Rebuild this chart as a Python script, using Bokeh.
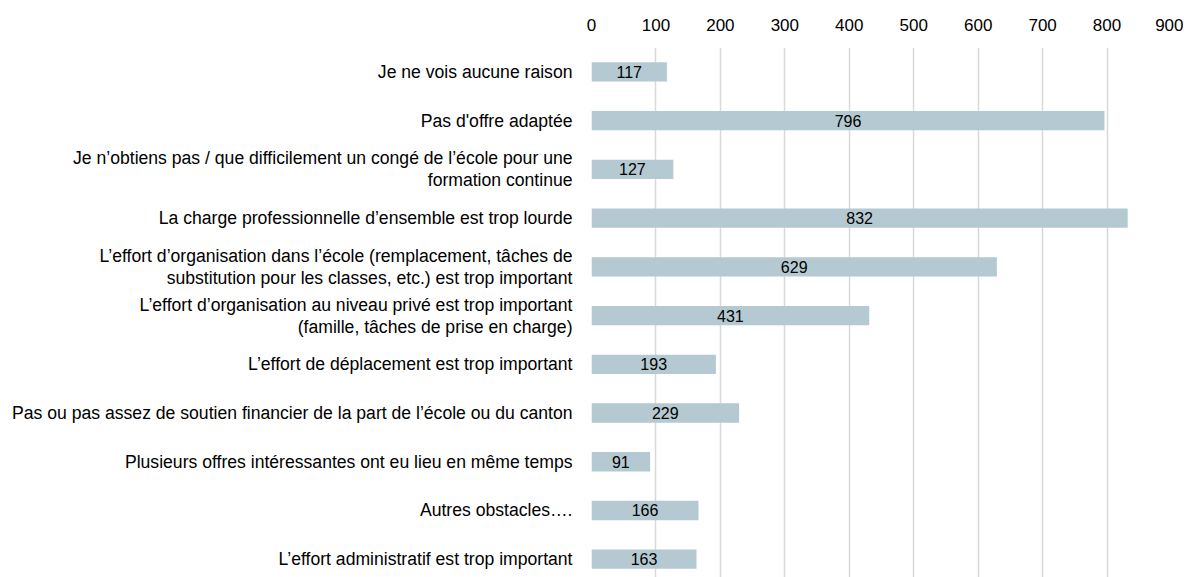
from bokeh.plotting import figure
from bokeh.models import Range1d, FixedTicker, ColumnDataSource, LabelSet
from bokeh.core.properties import value
from bokeh.embed import file_html
from bokeh.resources import INLINE

categories = [
    "Je ne vois aucune raison",
    "Pas d'offre adaptée",
    "Je n’obtiens pas / que difficilement un congé de l’école pour une\nformation continue",
    "La charge professionnelle d’ensemble est trop lourde",
    "L’effort d’organisation dans l’école (remplacement, tâches de\nsubstitution pour les classes, etc.) est trop important",
    "L’effort d’organisation au niveau privé est trop important\n(famille, tâches de prise en charge)",
    "L’effort de déplacement est trop important",
    "Pas ou pas assez de soutien financier de la part de l’école ou du canton",
    "Plusieurs offres intéressantes ont eu lieu en même temps",
    "Autres obstacles….",
    "L’effort administratif est trop important",
]
values = [117, 796, 127, 832, 629, 431, 193, 229, 91, 166, 163]
x_ticks = [0, 100, 200, 300, 400, 500, 600, 700, 800, 900]

FONT = "Liberation Sans"
pos = list(range(len(categories)))

src = ColumnDataSource(dict(
    y=pos,
    v=values,
    mid=[v / 2 for v in values],
    txt=[str(v) for v in values],
))

p = figure(
    width=1183, height=577,
    x_range=Range1d(0, 900),
    y_range=Range1d(10.375, -0.5),
    x_axis_location="above",
    output_backend="svg", toolbar_location=None,
    min_border_left=591, min_border_right=12, min_border_top=47, min_border_bottom=0,
)
p.outline_line_color = None
p.background_fill_color = "white"
p.border_fill_color = "white"

p.hbar(y="y", left=0, right="v", height=0.396, source=src,
       fill_color="#b4c9d1", line_color=None)

labels = LabelSet(x="mid", y="y", text="txt", source=src,
                  text_align="center", text_baseline="middle",
                  text_font=value(FONT), text_font_size="16px", text_color="#000000",
                  y_offset=0)
p.add_layout(labels)

# x axis (top)
xa = p.xaxis[0]
xa.ticker = FixedTicker(ticks=x_ticks)
xa.axis_line_color = None
xa.major_tick_line_color = None
xa.minor_tick_line_color = None
xa.major_label_standoff = 11
xa.major_label_text_font = FONT
xa.major_label_text_font_size = "17px"
xa.major_label_text_color = "#000000"

# y axis (categories)
ya = p.yaxis[0]
ya.ticker = FixedTicker(ticks=pos)
ya.major_label_overrides = {i: c for i, c in zip(pos, categories)}
ya.axis_line_color = None
ya.major_tick_line_color = None
ya.minor_tick_line_color = None
ya.major_label_standoff = 13
ya.major_label_text_font = FONT
ya.major_label_text_font_size = "17.6px"
ya.major_label_text_color = "#000000"
ya.major_label_text_align = "right"
ya.major_label_text_line_height = 1.1

p.xgrid.ticker = FixedTicker(ticks=x_ticks)
p.xgrid.grid_line_color = "#d9d9d9"
p.xgrid.grid_line_width = 1.5
p.ygrid.grid_line_color = None

open("out.html", "w").write(file_html(p, INLINE))
